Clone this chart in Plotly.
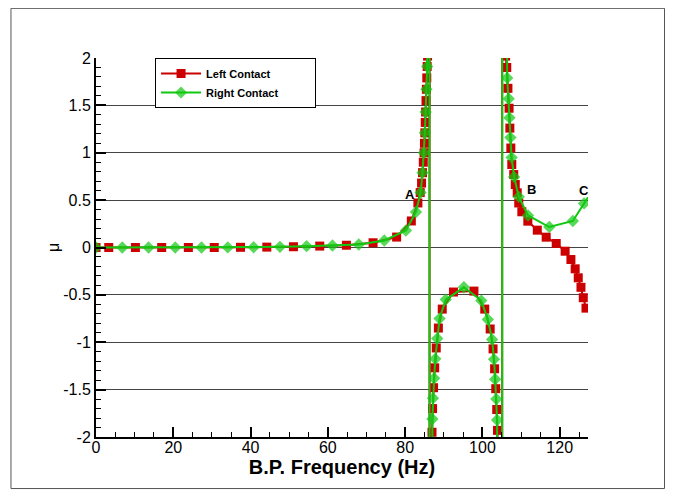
import plotly.graph_objects as go

# ---- data ----
freq_left = [0.0, 3.3, 10.2, 17.0, 23.9, 30.6, 37.4, 44.2, 51.1, 57.9, 64.8, 71.7, 77.8, 81.6,
             83.3, 83.9, 84.25, 84.5, 84.7, 84.9, 85.0, 85.1, 85.2, 85.3, 85.4, 85.5, 85.6, 85.7, 85.8,
             86.3, 86.33,
             86.95, 87.1, 87.35, 87.65, 88.05, 88.6, 89.6, 92.5, 97.8, 100.6, 102.0, 102.75, 103.15,
             103.45, 103.7, 103.9,
             105.1, 105.13,
             106.0, 106.3, 106.6, 106.9, 107.1, 107.35, 107.6, 108.1, 108.5, 109.0, 109.4, 110.2,
             111.75, 114.2, 116.5, 119.1, 121.4, 122.9, 124.0, 124.8, 125.5, 126.1, 126.8]
mu_left = [0.0, 0.0, 0.0, 0.0, 0.0, 0.0, 0.002, 0.004, 0.008, 0.015, 0.024, 0.05, 0.11, 0.28,
           0.47, 0.58, 0.68, 0.79, 0.9, 1.0, 1.1, 1.21, 1.32, 1.43, 1.55, 1.67, 1.79, 1.91, 2.02,
           60, -60,
           -1.95, -1.70, -1.48, -1.27, -1.06, -0.85, -0.65, -0.47, -0.46, -0.65, -0.86, -1.07, -1.28,
           -1.49, -1.71, -1.93,
           -60, 60,
           2.02, 1.90, 1.68, 1.47, 1.26, 1.05, 0.876, 0.77, 0.665, 0.577, 0.47, 0.377,
           0.278, 0.183, 0.109, 0.042, -0.039, -0.127, -0.225, -0.32, -0.42, -0.53, -0.64]

freq_right = [0.0, 6.8, 13.6, 20.5, 27.3, 34.1, 40.8, 47.6, 54.5, 61.2, 68.0, 74.6, 80.2, 82.8,
              84.0, 84.5, 84.85, 85.1, 85.3, 85.5, 85.7,
              86.3, 86.33,
              87.05, 87.2, 87.5, 87.8, 88.3, 88.9, 90.5, 95.2, 99.7, 101.4, 102.5, 103.0, 103.3,
              103.6, 103.8,
              105.1, 105.13,
              106.4, 106.8, 107.0, 107.25, 107.55, 108.2, 109.4, 111.8, 117.3, 123.4, 126.3, 127.32]
mu_right = [0.0, 0.0, 0.0, 0.0, 0.0, 0.001, 0.003, 0.007, 0.014, 0.021, 0.032, 0.074, 0.18, 0.375,
            0.58, 0.79, 1.0, 1.21, 1.43, 1.67, 1.91,
            60, -60,
            -1.81, -1.59, -1.38, -1.175, -0.96, -0.75, -0.55, -0.42, -0.56, -0.76, -0.97, -1.18, -1.39,
            -1.60, -1.82,
            -60, 60,
            1.79, 1.57, 1.37, 1.16, 0.95, 0.745, 0.535, 0.338, 0.216, 0.28, 0.465, 0.53]

x_ticks = [0, 20, 40, 60, 80, 100, 120]
x_tick_labels = ["0", "20", "40", "60", "80", "100", "120"]
y_ticks = [-2, -1.5, -1, -0.5, 0, 0.5, 1, 1.5, 2]
y_tick_labels = ["-2", "-1.5", "-1", "-0.5", "0", "0.5", "1", "1.5", "2"]

point_labels = ["A", "B", "C"]
label_freq = [81.3, 112.8, 126.2]
label_mu = [0.56, 0.61, 0.60]

RED = "#cc0000"
GREEN = "#11c811"
FONT = "Liberation Sans, Arial, sans-serif"
PAD = "\u00a0" * 13

fig = go.Figure()
fig.add_trace(go.Scatter(
    x=freq_left, y=mu_left, mode="lines+markers", name="Left Contact" + PAD,
    line=dict(color=RED, width=2),
    marker=dict(symbol="square", size=9, color=RED, line=dict(width=0)),
))
green_sizes = [9.5] * len(freq_right)
green_sizes[-1] = 0
fig.add_trace(go.Scatter(
    x=freq_right, y=mu_right, mode="lines+markers", name="Right Contact",
    line=dict(color=GREEN, width=2),
    marker=dict(symbol="diamond", size=green_sizes, color=GREEN, line=dict(width=0)),
))

for t, fx, fy in zip(point_labels, label_freq, label_mu):
    fig.add_annotation(x=fx, y=fy, text="<b>%s</b>" % t, showarrow=False,
                       font=dict(family=FONT, size=13, color="black"))

# outer frame
fig.add_shape(type="rect", xref="paper", yref="paper",
              x0=-0.1728, x1=1.1555, y0=-0.136, y1=1.131,
              line=dict(color="#555555", width=1), layer="below")

fig.update_layout(
    width=657, height=482,
    margin=dict(l=88, r=77, t=50, b=53),
    paper_bgcolor="white", plot_bgcolor="white",
    font=dict(family=FONT, size=16, color="black"),
    showlegend=True,
    legend=dict(x=0.12, y=1.0, xanchor="left", yanchor="top",
                bgcolor="white", bordercolor="black", borderwidth=1,
                font=dict(family=FONT, size=11, color="black", weight="bold"),
                itemwidth=40, tracegroupgap=0),
    xaxis=dict(
        range=[0, 127.32], tickvals=x_ticks, ticktext=x_tick_labels,
        ticks="inside", ticklen=10, tickwidth=2, tickcolor="black",
        showline=True, linecolor="black", linewidth=2, mirror=False,
        showgrid=False, zeroline=False, ticklabelstandoff=-5,
        minor=dict(dtick=5, tick0=0, ticks="inside", ticklen=5, tickwidth=1,
                   tickcolor="black", showgrid=False),
        title=dict(text="<b>B.P. Frequency (Hz)</b>", font=dict(family=FONT, size=20), standoff=0),
        tickfont=dict(family=FONT, size=16),
    ),
    yaxis=dict(
        range=[-2, 2], tickvals=y_ticks, ticktext=y_tick_labels,
        ticks="inside", ticklen=10, tickwidth=2, tickcolor="black",
        showline=True, linecolor="black", linewidth=2, mirror=False,
        showgrid=True, gridcolor="#444444", gridwidth=1, zeroline=False,
        minor=dict(dtick=0.1, tick0=0, ticks="inside", ticklen=5, tickwidth=1,
                   tickcolor="black", showgrid=False),
        title=dict(text="μ", font=dict(family=FONT, size=16), standoff=0),
        tickfont=dict(family=FONT, size=16),
    ),
)

fig.write_html("out.html")
